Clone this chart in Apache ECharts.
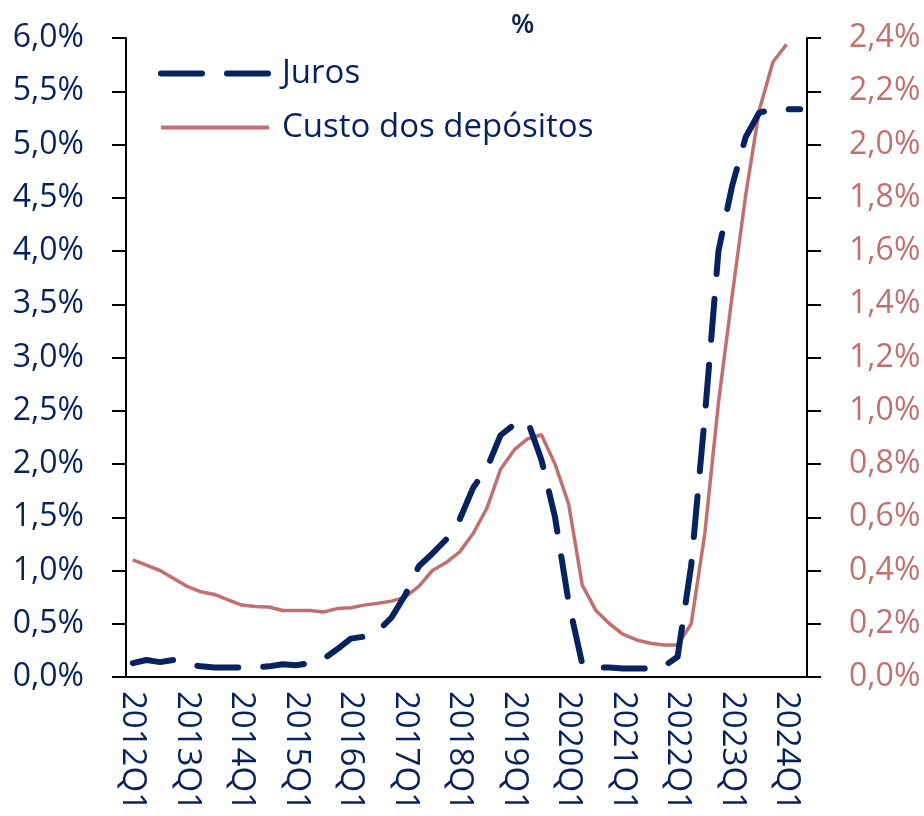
<!DOCTYPE html>
<html>
<head>
<meta charset="utf-8">
<script src="https://cdn.jsdelivr.net/npm/echarts@6/dist/echarts.min.js"></script>
<style>
  html, body { margin: 0; padding: 0; background: #fff; }
  #main { width: 924px; height: 816px; }
</style>
</head>
<body>
<div id="main"></div>
<script>
// trimestres
var quarters = [
  '2012Q1','2012Q2','2012Q3','2012Q4','2013Q1','2013Q2','2013Q3','2013Q4',
  '2014Q1','2014Q2','2014Q3','2014Q4','2015Q1','2015Q2','2015Q3','2015Q4',
  '2016Q1','2016Q2','2016Q3','2016Q4','2017Q1','2017Q2','2017Q3','2017Q4',
  '2018Q1','2018Q2','2018Q3','2018Q4','2019Q1','2019Q2','2019Q3','2019Q4',
  '2020Q1','2020Q2','2020Q3','2020Q4','2021Q1','2021Q2','2021Q3','2021Q4',
  '2022Q1','2022Q2','2022Q3','2022Q4','2023Q1','2023Q2','2023Q3','2023Q4',
  '2024Q1','2024Q2'
];

// Juros (eixo esquerdo, %)
var juros = [
  0.13, 0.16, 0.14, 0.16, 0.12, 0.10, 0.09, 0.09,
  0.09, 0.09, 0.10, 0.12, 0.11, 0.13, 0.17, 0.26,
  0.36, 0.38, 0.43, 0.56, 0.77, 1.04, 1.16, 1.29,
  1.48, 1.78, 1.96, 2.27, 2.37, 2.40, 2.04, 1.50,
  0.70, 0.12, 0.09, 0.09, 0.08, 0.08, 0.08, 0.10,
  0.19, 1.05, 2.45, 4.00, 4.61, 5.07, 5.30, 5.33,
  5.33, 5.33
];

// Custo dos depósitos (eixo direito, %)
var custo = [
  0.44, 0.42, 0.40, 0.37, 0.34, 0.32, 0.31, 0.29,
  0.27, 0.265, 0.263, 0.25, 0.25, 0.25, 0.244, 0.257,
  0.26, 0.27, 0.277, 0.285, 0.30, 0.34, 0.40, 0.43,
  0.47, 0.54, 0.634, 0.78, 0.853, 0.895, 0.91, 0.80,
  0.65, 0.345, 0.25, 0.20, 0.16, 0.139, 0.127, 0.12,
  0.12, 0.20, 0.54, 1.03, 1.43, 1.81, 2.13, 2.31,
  2.376, null
];

var navy = '#06225F';
var rose = '#C0706F';
var font = 'Open Sans';
var jurosDash = [41, 25];

function pct(v) {
  return v.toFixed(1).replace('.', ',') + '%';
}

var myChart = echarts.init(document.getElementById('main'));
myChart.setOption({
  animation: false,
  textStyle: { fontFamily: font },
  title: {
    text: '%',
    left: 506,
    top: 7,
    textStyle: { color: navy, fontSize: 27, fontWeight: 600, fontFamily: font }
  },
  legend: {
    orient: 'vertical',
    left: 153,
    top: 52,
    itemWidth: 108,
    itemHeight: 32,
    itemGap: 21,
    itemStyle: { opacity: 0 },
    textStyle: { color: navy, fontSize: 33, fontFamily: font, padding: [0, 0, 0, 8] },
    data: [{
      name: 'Juros',
      lineStyle: { color: navy, width: 6, type: jurosDash, cap: 'round' }
    }, {
      name: 'Custo dos depósitos',
      lineStyle: { color: rose, width: 4, type: 'solid' }
    }]
  },
  grid: { left: 126, right: 117, top: 38, bottom: 139 },
  xAxis: {
    type: 'category',
    data: quarters,
    boundaryGap: true,
    axisLine: { lineStyle: { color: '#000', width: 2 } },
    axisTick: { show: false },
    axisLabel: {
      interval: 3,
      rotate: -90,
      margin: 14,
      color: navy,
      fontSize: 33,
      fontFamily: font
    },
    splitLine: { show: false }
  },
  yAxis: [{
    type: 'value',
    min: 0,
    max: 6,
    interval: 0.5,
    axisLine: { show: true, lineStyle: { color: '#000', width: 2 } },
    axisTick: { show: true, length: 14, lineStyle: { color: '#000', width: 2 } },
    axisLabel: { formatter: pct, color: navy, fontSize: 32, margin: 42, fontFamily: font },
    splitLine: { show: false }
  }, {
    type: 'value',
    position: 'right',
    min: 0,
    max: 2.4,
    interval: 0.2,
    axisLine: { show: true, lineStyle: { color: '#000', width: 2 } },
    axisTick: { show: true, length: 14, lineStyle: { color: '#000', width: 2 } },
    axisLabel: { formatter: pct, color: rose, fontSize: 32, margin: 42, fontFamily: font },
    splitLine: { show: false }
  }],
  series: [{
    name: 'Juros',
    type: 'line',
    yAxisIndex: 0,
    data: juros,
    symbol: 'none',
    lineStyle: { color: navy, width: 6, type: jurosDash, cap: 'round', join: 'round' },
    itemStyle: { color: navy },
    z: 3
  }, {
    name: 'Custo dos depósitos',
    type: 'line',
    yAxisIndex: 1,
    data: custo,
    symbol: 'none',
    lineStyle: { color: rose, width: 3.5 },
    itemStyle: { color: rose },
    z: 2
  }]
});
</script>
</body>
</html>
